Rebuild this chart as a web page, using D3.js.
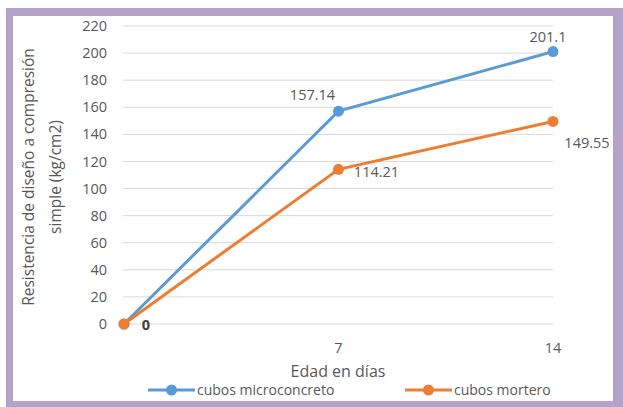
<!DOCTYPE html>
<html>
<head>
<meta charset="utf-8">
<script src="https://cdn.jsdelivr.net/npm/d3@7"></script>
<style>
  body { margin: 0; background: #fff; }
  svg { display: block; font-family: "Open Sans", "Liberation Sans", sans-serif; }
</style>
</head>
<body>
<div id="chart"></div>
<script>
// data
var days = [0, 7, 14];
var microconcreto = [0, 157.14, 201.1];
var mortero = [0, 114.21, 149.55];
var yTicks = [0, 20, 40, 60, 80, 100, 120, 140, 160, 180, 200, 220];
var xTicks = [7, 14];
var seriesNames = ["cubos microconcreto", "cubos mortero"];
var colors = ["#5B9BD5", "#ED7D31"];

var W = 623, H = 407;
var svg = d3.select("#chart").append("svg").attr("width", W).attr("height", H);

// purple frame
svg.append("rect").attr("x", 6).attr("y", 8).attr("width", W - 6).attr("height", H - 8).attr("fill", "#b4a2c9");
svg.append("rect").attr("x", 13).attr("y", 16).attr("width", 600).attr("height", 385).attr("fill", "#fff");

var x = d3.scaleLinear().domain([0, 14]).range([124, 553]);
var y = d3.scaleLinear().domain([0, 220]).range([324, 26]);

// gridlines
svg.append("g").selectAll("line").data(yTicks).enter().append("line")
    .attr("x1", 123).attr("x2", 553)
    .attr("y1", function(d) { return y(d); }).attr("y2", function(d) { return y(d); })
    .attr("stroke", "#d9d9d9").attr("stroke-width", 1);

// y tick labels
svg.append("g").selectAll("text").data(yTicks).enter().append("text")
    .attr("x", 107).attr("y", function(d) { return y(d); })
    .attr("dy", "0.35em").attr("text-anchor", "end")
    .attr("font-size", 14.5).attr("fill", "#595959")
    .text(function(d) { return d; });

// x tick labels
svg.append("g").selectAll("text").data(xTicks).enter().append("text")
    .attr("x", function(d) { return x(d); }).attr("y", 348)
    .attr("dy", "0.35em").attr("text-anchor", "middle")
    .attr("font-size", 14.5).attr("fill", "#595959")
    .text(function(d) { return d; });

// axis titles
var yt = svg.append("text").attr("transform", "translate(34,177) rotate(-90)")
    .attr("text-anchor", "middle").attr("font-size", 15.5).attr("fill", "#595959");
yt.append("tspan").attr("x", 0).attr("y", 0).text("Resistencia de diseño a compresión");
yt.append("tspan").attr("x", 0).attr("y", 27).text("simple (kg/cm2)");

svg.append("text").attr("x", 338).attr("y", 377)
    .attr("text-anchor", "middle").attr("font-size", 16).attr("fill", "#595959")
    .text("Edad en días");

// lines + markers
var line = d3.line().x(function(d) { return x(d[0]); }).y(function(d) { return y(d[1]); });
[microconcreto, mortero].forEach(function(vals, i) {
    var pts = days.map(function(d, j) { return [d, vals[j]]; });
    svg.append("path").datum(pts).attr("d", line)
        .attr("fill", "none").attr("stroke", colors[i]).attr("stroke-width", 3);
    svg.append("g").selectAll("circle").data(pts).enter().append("circle")
        .attr("cx", function(d) { return x(d[0]); }).attr("cy", function(d) { return y(d[1]); })
        .attr("r", 5.5).attr("fill", colors[i]);
});

// data labels
var labels = [
    { v: microconcreto[1], t: "157.14", ix: 1, dx: -26, dy: -16 },
    { v: microconcreto[2], t: "201.1", ix: 2, dx: -5, dy: -15 },
    { v: mortero[1], t: "114.21", ix: 1, dx: 38, dy: 3 },
    { v: mortero[2], t: "149.55", ix: 2, dx: 34, dy: 21 },
    { v: mortero[0], t: "0", ix: 0, dx: 22, dy: 1 }
];
svg.append("g").selectAll("text").data(labels).enter().append("text")
    .attr("x", function(d) { return x(days[d.ix]) + d.dx; })
    .attr("y", function(d) { return y(d.v) + d.dy; })
    .attr("dy", "0.35em").attr("text-anchor", "middle")
    .attr("font-size", 14.5)
    .attr("fill", function(d) { return d.t === "0" ? "#404040" : "#595959"; })
    .attr("font-weight", function(d) { return d.t === "0" ? "bold" : "normal"; })
    .text(function(d) { return d.t; });

// legend
var legX = [148, 405];
seriesNames.forEach(function(name, i) {
    var g = svg.append("g").attr("transform", "translate(" + legX[i] + ",390)");
    g.append("line").attr("x1", 0).attr("x2", 47).attr("stroke", colors[i]).attr("stroke-width", 3);
    g.append("circle").attr("cx", 23.5).attr("r", 5.5).attr("fill", colors[i]);
    g.append("text").attr("x", 49).attr("dy", "0.35em").attr("font-size", 14)
        .attr("fill", "#595959").text(name);
});
</script>
</body>
</html>
